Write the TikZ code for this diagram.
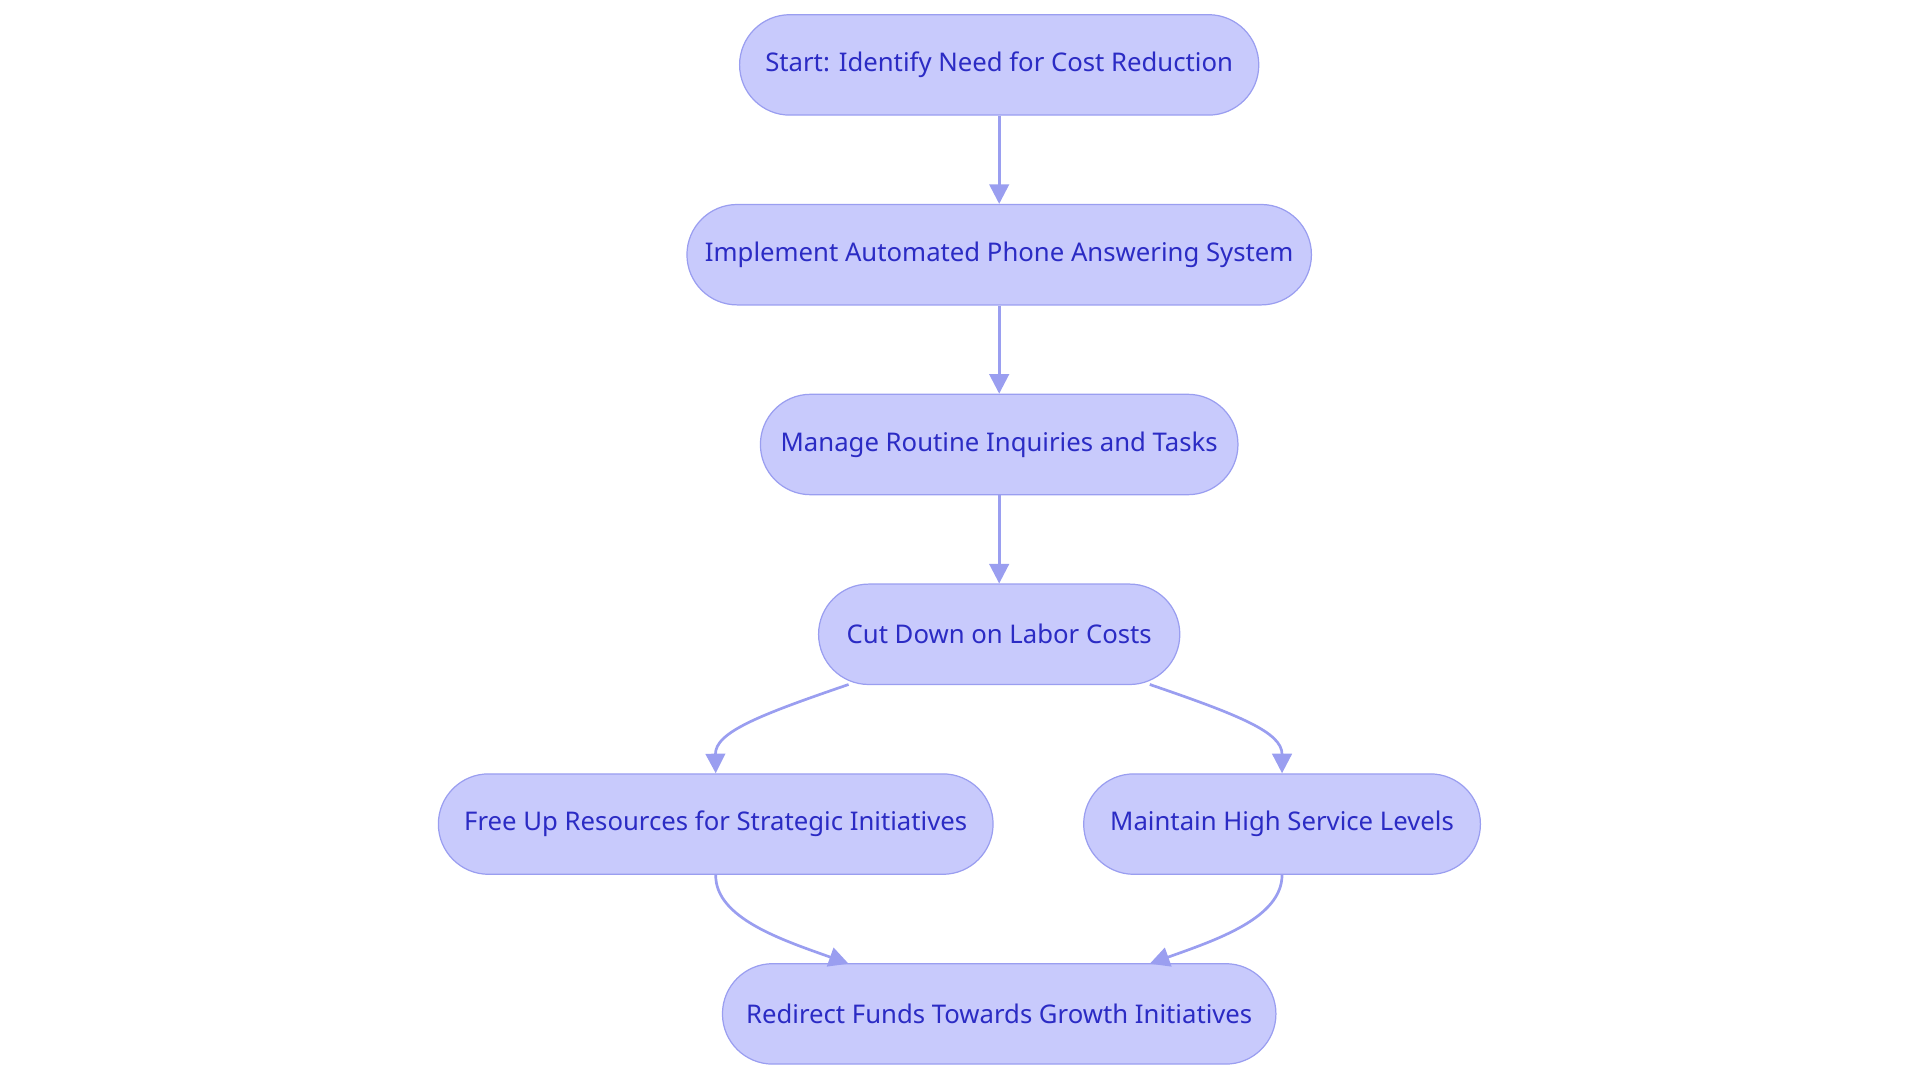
\documentclass[tikz,border=0pt]{standalone}
\usepackage{fontspec}
\setmainfont{Noto Sans}
\usetikzlibrary{arrows.meta}
\definecolor{fillc}{HTML}{C8CAFC}
\definecolor{linec}{HTML}{9A9EF0}
\definecolor{textc}{HTML}{2B2BC4}
\begin{document}
\begin{tikzpicture}[x=0.5pt,y=-0.5pt,
  box/.style={draw=linec,fill=fillc,text=textc,rounded corners=20.5pt,minimum height=41pt,inner sep=0pt,font=\fontsize{10.5}{12}\selectfont,line width=0.5pt},
  arr/.style={draw=linec,line width=1.1pt,-{Triangle[length=8pt,width=8pt]}}]
\useasboundingbox (0,0) rectangle (1568,884);
\node[box,minimum width=212pt] (n1) at (816,53) {Start: Identify Need for Cost Reduction};
\node[box,minimum width=255pt] (n2) at (816,208) {Implement Automated Phone Answering System};
\node[box,minimum width=195pt] (n3) at (816,363) {Manage Routine Inquiries and Tasks};
\node[box,minimum width=147.5pt] (n4) at (816,518) {Cut Down on Labor Costs};
\node[box,minimum width=226.5pt] (n5) at (584.5,673) {Free Up Resources for Strategic Initiatives};
\node[box,minimum width=162pt] (n6) at (1047,673) {Maintain High Service Levels};
\node[box,minimum width=226pt] (n7) at (816,828) {Redirect Funds Towards Growth Initiatives};
\draw[arr] (n1) -- (n2);
\draw[arr] (n2) -- (n3);
\draw[arr] (n3) -- (n4);
\draw[arr] (693,559) .. controls (620,584) and (584,598) .. (n5.north);
\draw[arr] (939,559) .. controls (1012,584) and (1047,598) .. (n6.north);
\draw[arr] (n5.south) .. controls (584,750) and (640,768) .. (693,787);
\draw[arr] (n6.south) .. controls (1047,750) and (992,768) .. (939,787);
\end{tikzpicture}
\end{document}
